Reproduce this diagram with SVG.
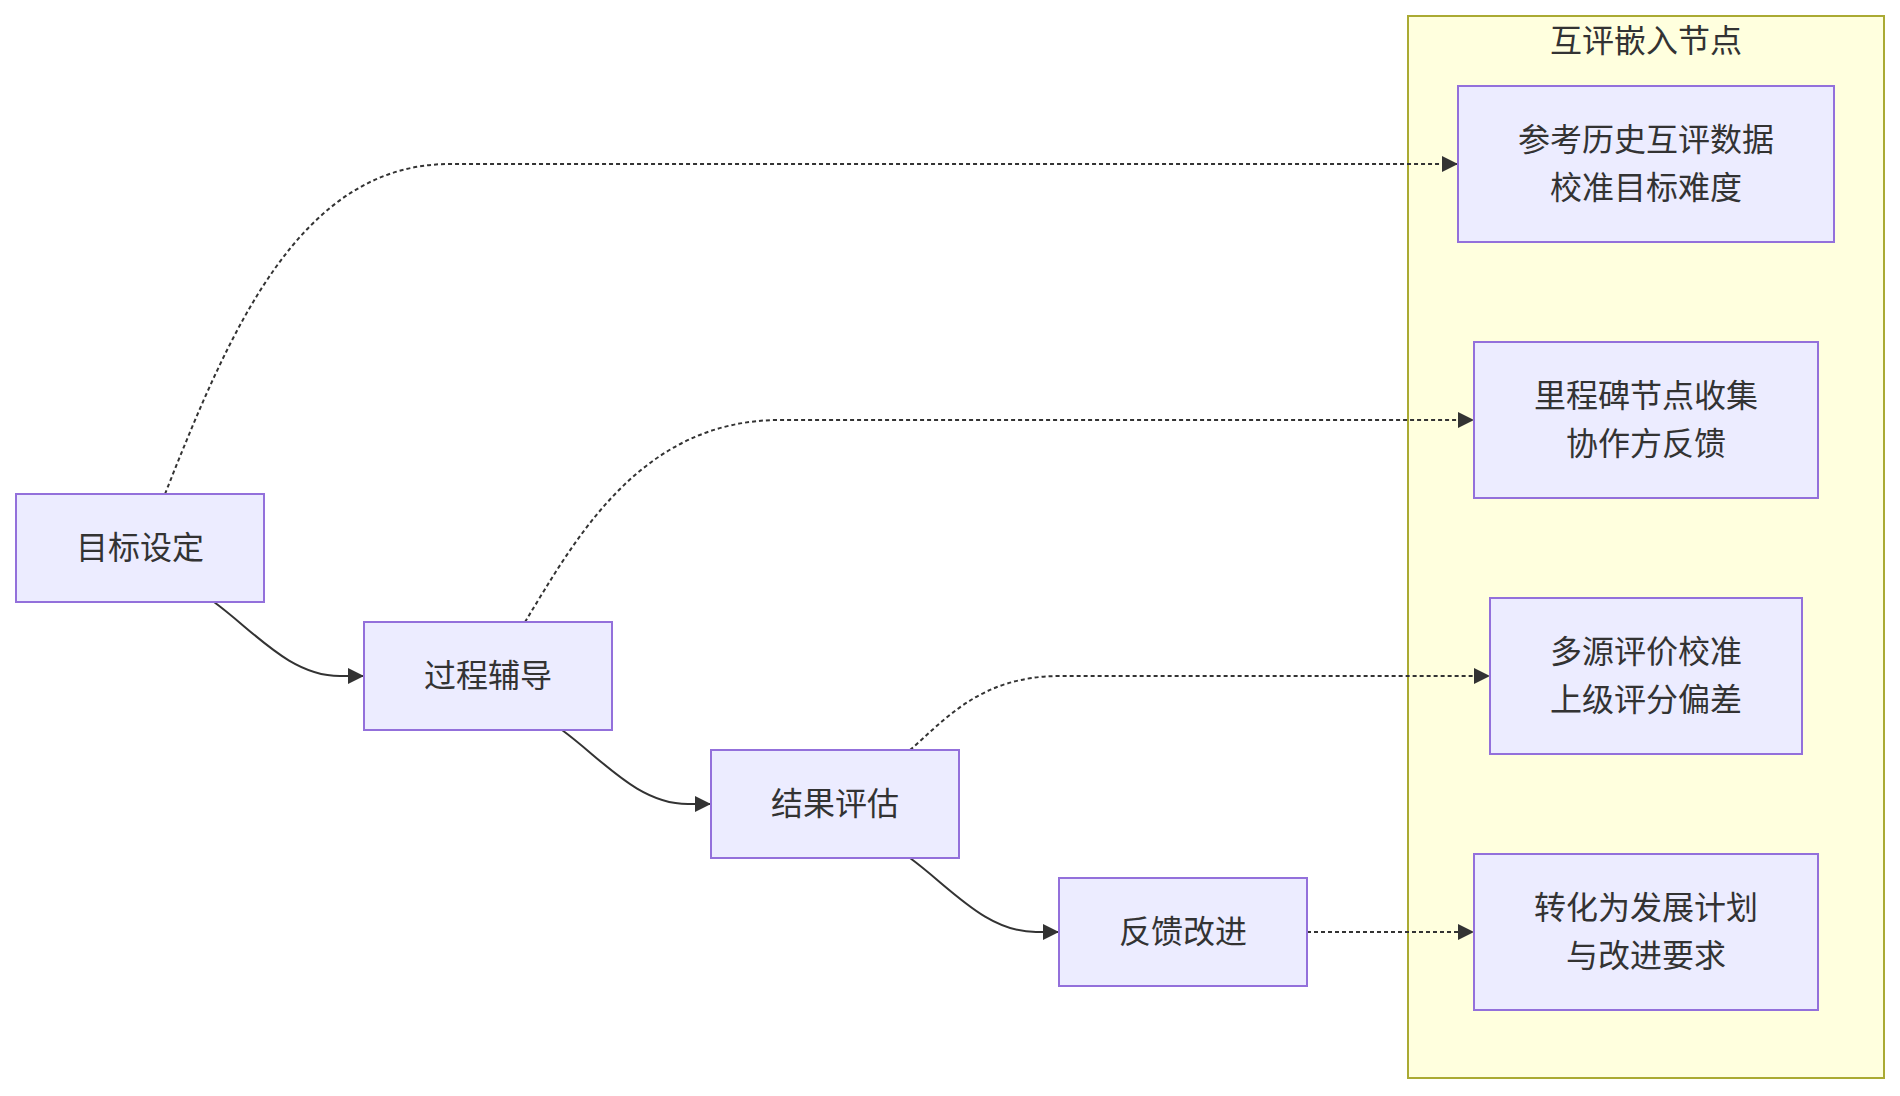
<svg xmlns="http://www.w3.org/2000/svg" width="1900" height="1096" viewBox="0 0 1900 1096">
<style>
.node rect{fill:#ECECFF;stroke:#9370DB;stroke-width:2}
.cluster rect{fill:#FFFFDE;stroke:#AAAA33;stroke-width:2}
text{font-family:"Noto Sans CJK SC","Liberation Sans",sans-serif;font-size:32px;fill:#333333;text-anchor:middle;dominant-baseline:central}
.edge{fill:none;stroke:#333333;stroke-width:2}
.dotted{stroke-dasharray:4 3}
</style>
<defs>
<marker id="arrow" viewBox="0 0 10 10" refX="10" refY="5" markerUnits="userSpaceOnUse" markerWidth="16" markerHeight="16" orient="auto">
<path d="M0,0 L10,5 L0,10 z" fill="#333333"/>
</marker>
</defs>
<g id="cluster-peer" class="cluster">
<rect x="1408" y="16" width="476" height="1062"/>
<text x="1646" y="38">互评嵌入节点</text>
</g>
<g id="connectors">
<path class="edge" d="M214,602 C255,632 290,676 340,676 L364,676" marker-end="url(#arrow)"/>
<path class="edge" d="M562,730 C603,760 638,804 688,804 L711,804" marker-end="url(#arrow)"/>
<path class="edge" d="M910,858 C951,888 986,932 1036,932 L1059,932" marker-end="url(#arrow)"/>
<path class="edge dotted" d="M165,494 C230,330 300,164 450,164 L1458,164" marker-end="url(#arrow)"/>
<path class="edge dotted" d="M525,622 C575,540 640,420 780,420 L1474,420" marker-end="url(#arrow)"/>
<path class="edge dotted" d="M910,750 C945,720 980,676 1060,676 L1490,676" marker-end="url(#arrow)"/>
<path class="edge dotted" d="M1307,932 L1474,932" marker-end="url(#arrow)"/>
</g>
<g id="node-goal" class="node">
<rect x="16" y="494" width="248" height="108"/>
<text x="140" y="545">目标设定</text>
</g>
<g id="node-coach" class="node">
<rect x="364" y="622" width="248" height="108"/>
<text x="488" y="673">过程辅导</text>
</g>
<g id="node-eval" class="node">
<rect x="711" y="750" width="248" height="108"/>
<text x="835" y="801">结果评估</text>
</g>
<g id="node-feedback" class="node">
<rect x="1059" y="878" width="248" height="108"/>
<text x="1183" y="929">反馈改进</text>
</g>
<g id="node-p1" class="node">
<rect x="1458" y="86" width="376" height="156"/>
<text x="1646" y="137">参考历史互评数据</text>
<text x="1646" y="185">校准目标难度</text>
</g>
<g id="node-p2" class="node">
<rect x="1474" y="342" width="344" height="156"/>
<text x="1646" y="393">里程碑节点收集</text>
<text x="1646" y="441">协作方反馈</text>
</g>
<g id="node-p3" class="node">
<rect x="1490" y="598" width="312" height="156"/>
<text x="1646" y="649">多源评价校准</text>
<text x="1646" y="697">上级评分偏差</text>
</g>
<g id="node-p4" class="node">
<rect x="1474" y="854" width="344" height="156"/>
<text x="1646" y="905">转化为发展计划</text>
<text x="1646" y="953">与改进要求</text>
</g>
</svg>
